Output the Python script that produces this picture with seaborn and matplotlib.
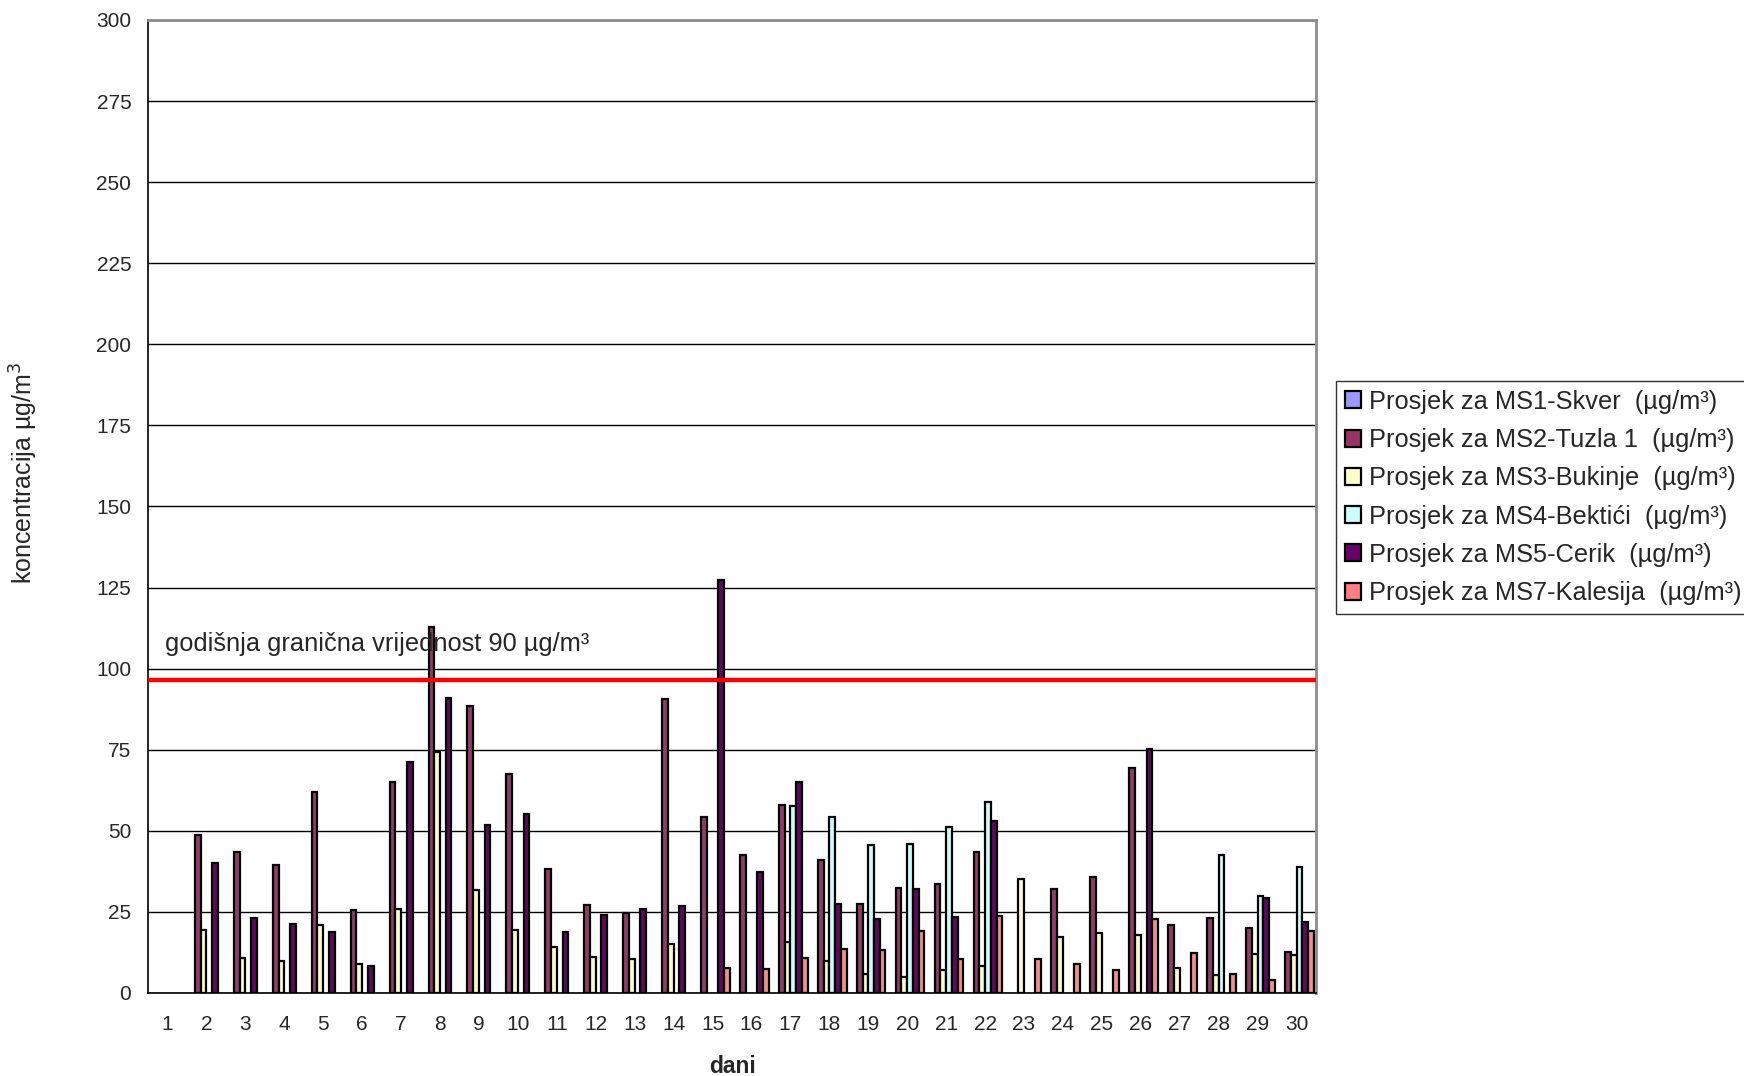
"""Dnevni prosjeci koncentracija po mjernim stanicama, sa graničnom vrijednošću."""

import matplotlib.pyplot as plt
import numpy as np
import pandas as pd
import seaborn as sns
from matplotlib.patches import Patch
from matplotlib.ticker import FixedLocator, MultipleLocator

nan = np.nan

dani = [str(d) for d in range(1, 31)]

stanice = [
    "Prosjek za MS1-Skver  (µg/m³)",
    "Prosjek za MS2-Tuzla 1  (µg/m³)",
    "Prosjek za MS3-Bukinje  (µg/m³)",
    "Prosjek za MS4-Bektići  (µg/m³)",
    "Prosjek za MS5-Cerik  (µg/m³)",
    "Prosjek za MS7-Kalesija  (µg/m³)",
]
boje = ["#9999FF", "#993366", "#FFFFCC", "#CCFFFF", "#660066", "#FF8080"]

ms1 = [nan] * 30
ms2 = [nan, 48.8, 43.5, 39.6, 62.0, 25.7, 65.1, 113.0, 88.6, 67.4,
       38.2, 27.0, 24.7, 90.6, 54.4, 42.5, 58.1, 41.0, 27.5, 32.3,
       33.7, 43.4, nan, 32.0, 35.9, 69.3, 21.0, 23.1, 20.0, 12.7]
ms3 = [nan, 19.5, 10.8, 9.8, 21.1, 8.9, 25.9, 74.2, 31.7, 19.5,
       14.3, 11.2, 10.4, 15.1, nan, nan, 15.8, 9.8, 5.8, 4.8,
       7.0, 8.3, 35.2, 17.4, 18.5, 17.8, 7.6, 5.4, 11.9, 11.6]
ms4 = [nan] * 16 + [57.8, 54.4, 45.6, 46.0, 51.1, 59.0, nan, nan, nan,
                    nan, nan, 42.4, 29.9, 38.8]
ms5 = [nan, 40.1, 23.2, 21.3, 18.7, 8.4, 71.2, 90.9, 51.9, 55.2,
       18.9, 24.0, 25.8, 26.8, 127.2, 37.2, 65.1, 27.4, 22.8, 32.1,
       23.4, 53.1, nan, nan, nan, 75.3, nan, nan, 29.3, 21.9]
ms7 = [nan] * 14 + [7.6, 7.3, 10.7, 13.7, 13.2, 19.2, 10.5, 23.7, 10.4,
                    9.0, 7.2, 22.9, 12.2, 6.0, 4.1, 19.0]

granicna = 96.6
granicna_tekst = "godišnja granična vrijednost 90 µg/m³"

df = pd.DataFrame({"dan": dani, stanice[0]: ms1, stanice[1]: ms2, stanice[2]: ms3,
                   stanice[3]: ms4, stanice[4]: ms5, stanice[5]: ms7})
dugi = df.melt(id_vars="dan", var_name="stanica", value_name="vrijednost")

sns.set_style("white")
plt.rcParams["font.family"] = ["Liberation Sans", "DejaVu Sans"]

fig = plt.figure(figsize=(17.44, 10.76), dpi=100)
ax = fig.add_axes([148 / 1744, 1 - 993 / 1076, 1168 / 1744, 973 / 1076])

# grid prije stubaca
ax.set_axisbelow(True)
ax.yaxis.grid(True, color="black", linewidth=1.0)

sns.barplot(data=dugi, x="dan", y="vrijednost", hue="stanica", order=dani,
            hue_order=stanice, palette=boje, width=0.885, edgecolor="black",
            linewidth=1.6, errorbar=None, legend=False, ax=ax)

ax.axhline(granicna, color="#FF0000", linewidth=3.2, zorder=5)
ax.text(-0.06, 105.5, granicna_tekst, fontsize=18.3, va="baseline", ha="left", zorder=6)

ax.set_xlim(-0.5, 29.5)
ax.set_ylim(0, 300)
ax.yaxis.set_major_locator(MultipleLocator(25))
ax.xaxis.set_minor_locator(FixedLocator(np.arange(-0.5, 30, 1)))
ax.tick_params(axis="x", which="major", length=0, labelsize=15, pad=16)
ax.tick_params(axis="x", which="minor", length=7, width=1, color="black", direction="out")
ax.tick_params(axis="y", length=7, width=1, color="black", direction="out", labelsize=15, pad=5)

for s in ["left", "bottom"]:
    ax.spines[s].set_color("black")
    ax.spines[s].set_linewidth(1.2)
for s in ["top", "right"]:
    ax.spines[s].set_visible(True)
    ax.spines[s].set_color("#8C8C8C")
    ax.spines[s].set_linewidth(2)

ax.set_xlabel("dani", fontsize=16.5, fontweight="bold", labelpad=15)
ax.set_ylabel("")
fig.text(24 / 1744, 1 - 473 / 1076, "koncentracija µg/m$^3$", rotation=90,
         fontsize=18, ha="center", va="center")

handles = [Patch(facecolor=c, edgecolor="black", linewidth=1.6) for c in boje]
leg = fig.legend(handles, stanice, loc="upper left",
                 bbox_to_anchor=(1336 / 1744, 1 - 381 / 1076), fontsize=18.3,
                 frameon=True, fancybox=False, shadow=False, handlelength=0.65,
                 handleheight=0.65, handletextpad=0.3, labelspacing=0.56,
                 borderpad=0.35, borderaxespad=0)
leg.get_frame().set_edgecolor("black")
leg.get_frame().set_linewidth(1.0)

fig.savefig("out.png", dpi=100)
